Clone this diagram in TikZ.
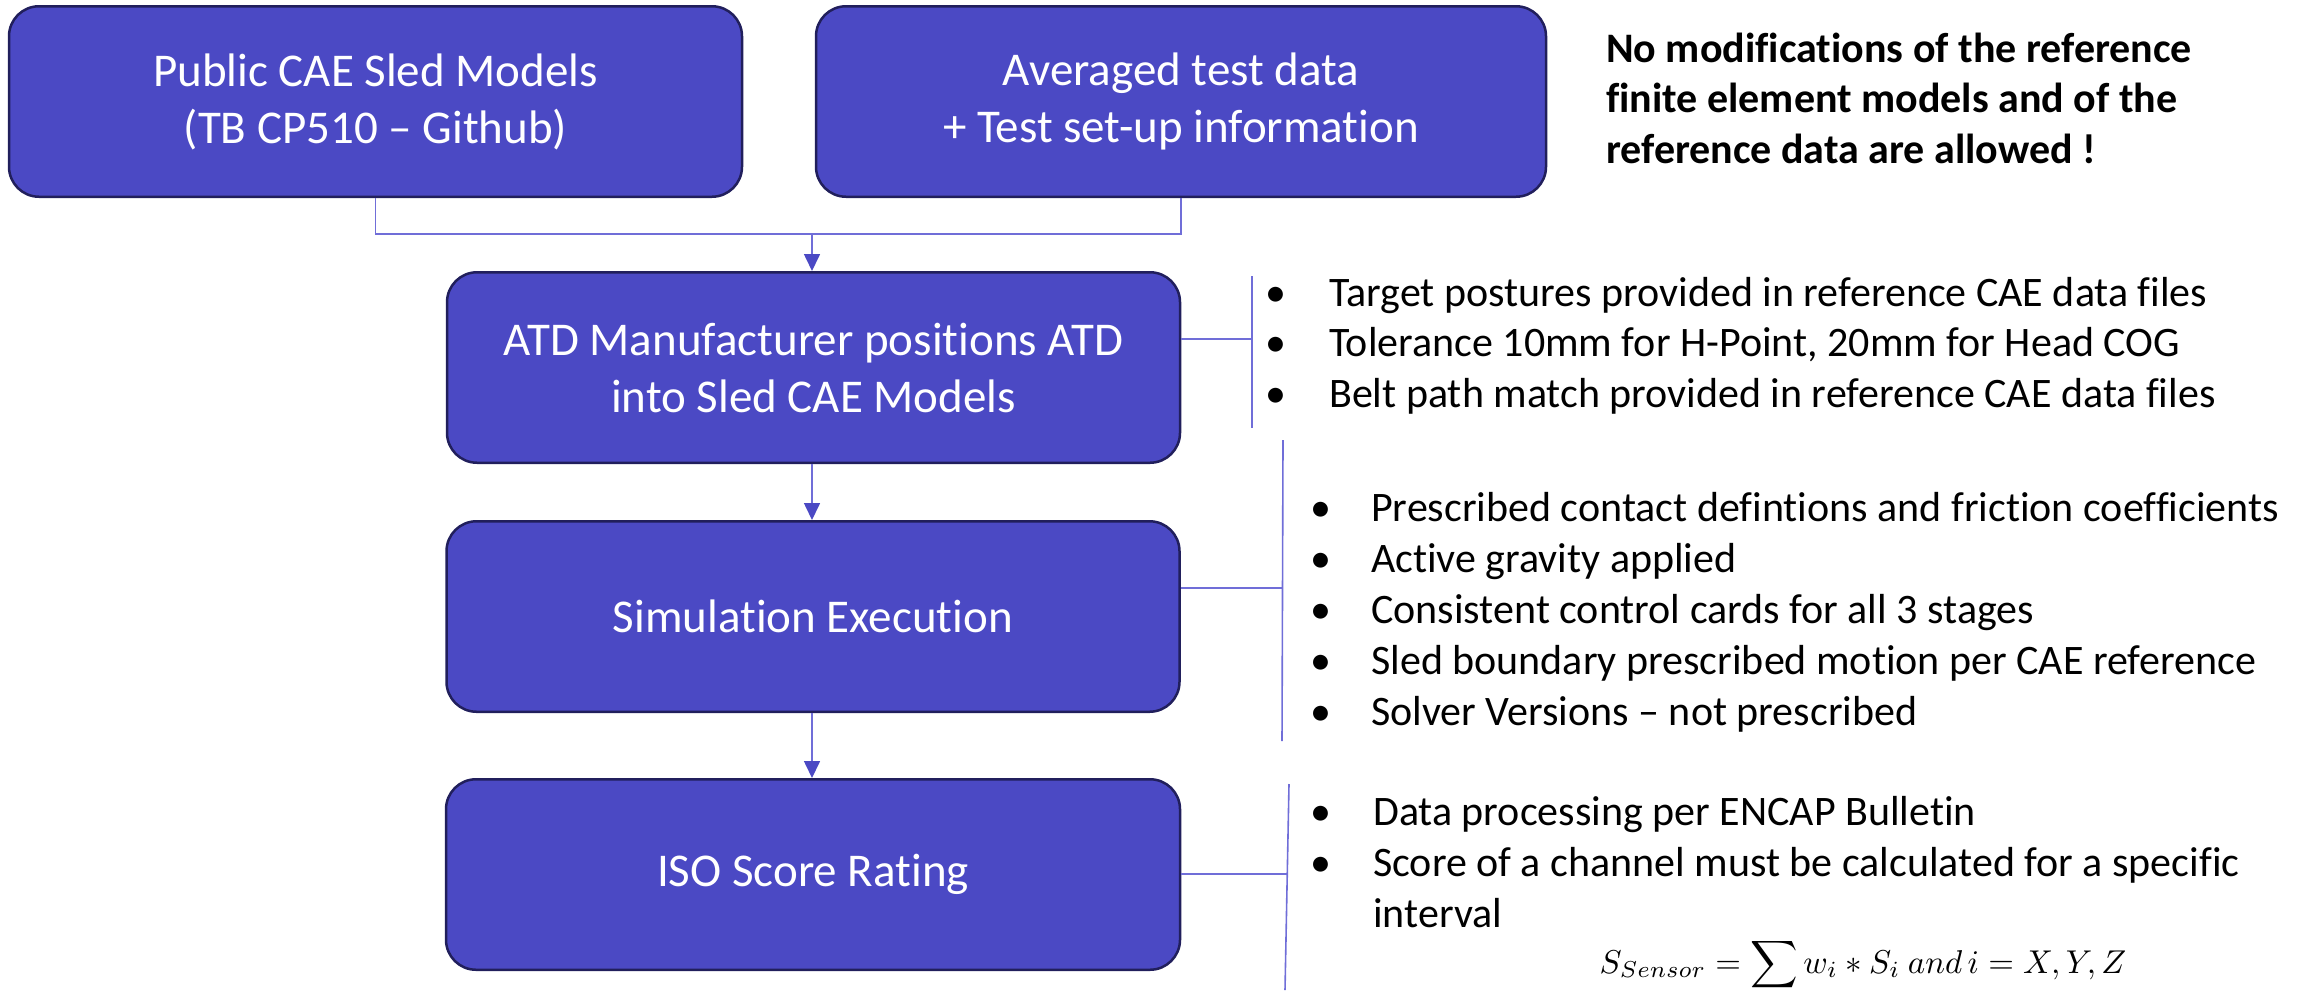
\documentclass[tikz,border=0pt]{standalone}
\usepackage{graphicx}
\usepackage{fontspec}
\setmainfont{Carlito}[Ligatures=NoCommon]
\usetikzlibrary{arrows.meta}
\definecolor{boxfill}{RGB}{75,73,196}
\definecolor{boxline}{RGB}{33,31,92}
\definecolor{connc}{RGB}{112,110,216}
\begin{document}
\begin{tikzpicture}[x=1pt,y=-1pt,
  box/.style={draw=boxline, line width=2.5pt, fill=boxfill, rounded corners=30pt,
    text=white, align=center, minimum height=190.5pt, inner sep=0pt,
    font=\fontsize{47}{57}\selectfont},
  conn/.style={draw=connc, line width=1.6pt},
  arr/.style={conn, -{Triangle[width=16pt,length=17pt,color=boxfill]}},
  list/.style={anchor=base west, inner sep=0pt, font=\fontsize{42}{51.2}\selectfont},
  notetext/.style={anchor=base west, inner sep=0pt, font=\bfseries\fontsize{42}{50.5}\selectfont}]
\useasboundingbox (0,0) rectangle (2323,994);

% main boxes
\node[box, minimum width=733pt] (pub) at (375.5,101.5) {Public CAE Sled Models\\(TB CP510 – Github)};
\node[box, minimum width=730pt] (avg) at (1181,101.5) {Averaged test data\\+ Test set-up information};
\node[box, minimum width=733pt] (atd) at (813.5,367.5) {ATD Manufacturer positions ATD\\into Sled CAE Models};
\node[box, minimum width=733pt] (sim) at (813,616.5) {Simulation Execution};
\node[box, minimum width=734pt] (iso) at (813,874.5) {ISO Score Rating};

% top connectors
\coordinate (join) at (812,234);
\draw[conn] (pub.south) |- (join) -| (avg.south);
\draw[arr] (join) -- (join |- atd.north);
\draw[arr] (atd.south -| join) -- (join |- sim.north);
\draw[arr] (sim.south -| join) -- (join |- iso.north);

% side brackets
\coordinate (b1t) at (1252,276);
\coordinate (b1b) at (1252,428);
\coordinate (b1m) at (1252,339);
\draw[conn] (b1t) -- (b1b);
\draw[conn] (b1m -| atd.east) -- (b1m);

\coordinate (b2t) at (1283,440);
\coordinate (b2b) at (1282,741);
\coordinate (b2m) at (1282.5,588);
\draw[conn] (b2t) -- (b2b);
\draw[conn] (b2m -| sim.east) -- (b2m);

\coordinate (b3t) at (1289,784);
\coordinate (b3b) at (1285,990);
\coordinate (b3m) at (1287,874);
\draw[conn] (b3t) -- (b3b);
\draw[conn] (b3m -| iso.east) -- (b3m);

% note
\node[notetext] (note) at (1606,62) {\begin{tabular}[t]{@{}l@{}}No modifications of the reference\\finite element models and of the\\reference data are allowed !\end{tabular}};

% lists
\node[list, font=\fontsize{42}{50.5}\selectfont] (l1) at (1265.5,306) {\begin{tabular}[t]{@{}p{63.5pt}@{}l@{}}
•& Target postures provided in reference CAE data files\\
•& Tolerance 10mm for H-Point, 20mm for Head COG\\
•& Belt path match provided in reference CAE data files\end{tabular}};

\node[list] (l2) at (1310.5,521) {\begin{tabular}[t]{@{}p{60.5pt}@{}l@{}}
•& Prescribed contact defintions and friction coefficients\\
•& Active gravity applied\\
•& Consistent control cards for all 3 stages\\
•& Sled boundary prescribed motion per CAE reference\\
•& Solver Versions – not prescribed\end{tabular}};

\node[list, font=\fontsize{42}{51}\selectfont] (l3) at (1310.5,825) {\begin{tabular}[t]{@{}p{62.5pt}@{}l@{}}
•& Data processing per ENCAP Bulletin\\
•& Score of a channel must be calculated for a specific\\
 & interval\end{tabular}};

\node[anchor=base, inner sep=0pt] (formula) at (1863,973)
  {\scalebox{3.3}{$S_{Sensor} = \displaystyle\sum w_i * S_i\ and\,i = X,Y,Z$}};
\end{tikzpicture}
\end{document}
